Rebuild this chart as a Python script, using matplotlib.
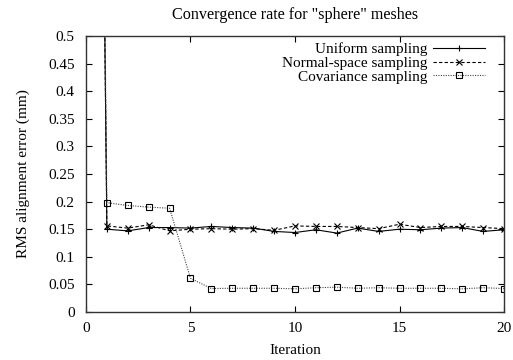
import matplotlib
matplotlib.use("Agg")
from matplotlib import pyplot as plt

plt.rcParams['font.family'] = ['Liberation Serif', 'DejaVu Serif']

iterations = list(range(0, 21))
uniform = [3.7, 0.150, 0.147, 0.153, 0.153, 0.152, 0.155, 0.153, 0.152, 0.146, 0.144,
           0.149, 0.143, 0.152, 0.146, 0.150, 0.149, 0.152, 0.153, 0.146, 0.149]
normal = [3.7, 0.156, 0.152, 0.158, 0.147, 0.150, 0.151, 0.150, 0.151, 0.148, 0.156,
          0.155, 0.155, 0.153, 0.151, 0.159, 0.153, 0.155, 0.155, 0.153, 0.151]
covariance = [3.7, 0.198, 0.193, 0.190, 0.188, 0.061, 0.0425, 0.043, 0.043, 0.043, 0.042,
              0.044, 0.045, 0.043, 0.044, 0.043, 0.043, 0.043, 0.042, 0.044, 0.0425]

fig = plt.figure(figsize=(5.13, 3.6), dpi=100)
ax = fig.add_axes([0.1676, 0.1333, 0.8149, 0.7667])

ax.plot(iterations, uniform, color='black', lw=0.8, ls='-', marker='+', ms=5,
        mew=0.8, label='Uniform sampling')
ax.plot(iterations, normal, color='black', lw=0.8, ls=(0, (3, 2)), marker='x', ms=4,
        mew=0.8, label='Normal-space sampling')
ax.plot(iterations, covariance, color='#444444', lw=0.8, ls=(0, (1, 1.2)), marker='s', ms=4,
        mew=0.8, mfc='none', mec='black', label='Covariance sampling')

ax.set_xlim(0, 20)
ax.set_ylim(0, 0.5)
ax.set_xticks([0, 5, 10, 15, 20])
ax.set_yticks([0, 0.05, 0.1, 0.15, 0.2, 0.25, 0.3, 0.35, 0.4, 0.45, 0.5])
ax.set_yticklabels(['0', '0.05', '0.1', '0.15', '0.2', '0.25', '0.3', '0.35', '0.4', '0.45', '0.5'])
ax.tick_params(direction='in', length=4, width=0.8, top=True, right=True,
               labelsize=11, colors='black')
ax.tick_params(axis='y', pad=8)
ax.tick_params(axis='x', pad=7)
for s in ax.spines.values():
    s.set_linewidth(1.0)
    s.set_color('#333333')

ax.set_xlabel('Iteration', fontsize=11, labelpad=7)
ax.set_ylabel('RMS alignment error (mm)', fontsize=11, labelpad=13)
ax.set_title('Convergence rate for "sphere" meshes', fontsize=11.6, pad=12)

ax.legend(loc='upper right', bbox_to_anchor=(0.98, 1.015), frameon=False, markerfirst=False,
          fontsize=11, handlelength=3.4, numpoints=1, labelspacing=0.0, handletextpad=0.4,
          borderpad=0.2)

fig.savefig('out.png', dpi=100)
